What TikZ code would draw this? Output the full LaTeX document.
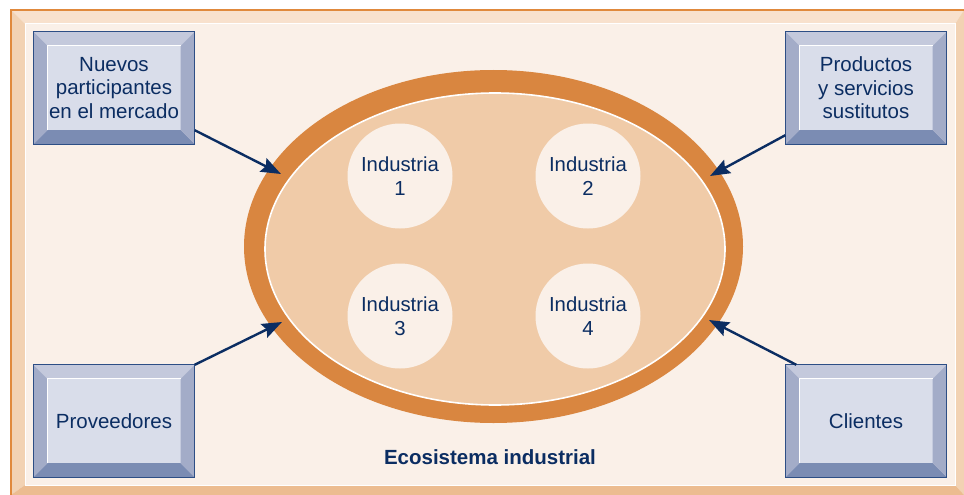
\documentclass[tikz,border=0pt]{standalone}
\usepackage{fontspec}
\setmainfont{Liberation Sans}
\usetikzlibrary{arrows.meta,shapes.geometric}
\definecolor{navy}{HTML}{0B2D62}
\definecolor{ring}{HTML}{D98640}
\definecolor{ringin}{HTML}{F0CBA8}
\definecolor{paper}{HTML}{FAF0E8}
\definecolor{frtop}{HTML}{F8E1CD}
\definecolor{frside}{HTML}{F2D2B3}
\definecolor{frbot}{HTML}{ECBC90}
\definecolor{frline}{HTML}{E0893C}
\definecolor{bxface}{HTML}{D9DDEA}
\definecolor{bxtop}{HTML}{C4C9DC}
\definecolor{bxside}{HTML}{A3ACC8}
\definecolor{bxbot}{HTML}{7B8CB3}
\definecolor{bxline}{HTML}{2D4E85}
\tikzset{
  boxouter/.style={rectangle,minimum width=161pt,minimum height=112pt,inner sep=0pt,fill=bxface},
  boxtext/.style={align=center,text=navy,font=\fontsize{20.5}{23.5}\selectfont,inner sep=0pt},
  indcircle/.style={circle,minimum size=105pt,inner sep=0pt,fill=paper,text=navy,align=center,font=\fontsize{20.3}{23.5}\selectfont},
  arr/.style={draw=navy,line width=2.4pt,-{Stealth[length=20pt,width=15pt,inset=3pt]}},
}
\newcommand{\bevbox}[4]{%
  \node[boxouter] (#1) at (#2,#3) {};
  \fill[bxtop] (#1.north west) -- (#1.north east) -- ([shift={(-14pt,-14pt)}]#1.north east) -- ([shift={(14pt,-14pt)}]#1.north west) -- cycle;
  \fill[bxbot] (#1.south west) -- (#1.south east) -- ([shift={(-14pt,14pt)}]#1.south east) -- ([shift={(14pt,14pt)}]#1.south west) -- cycle;
  \fill[bxside] (#1.north west) -- ([shift={(14pt,-14pt)}]#1.north west) -- ([shift={(14pt,14pt)}]#1.south west) -- (#1.south west) -- cycle;
  \fill[bxside] (#1.north east) -- ([shift={(-14pt,-14pt)}]#1.north east) -- ([shift={(-14pt,14pt)}]#1.south east) -- (#1.south east) -- cycle;
  \draw[white,line width=1pt] ([shift={(14pt,14pt)}]#1.south west) -- ([shift={(14pt,-14pt)}]#1.north west) -- ([shift={(-14pt,-14pt)}]#1.north east);
  \draw[bxline,line width=1.2pt] (#1.north west) rectangle (#1.south east);
  \node[boxtext] at (#1) {#4};
}
\begin{document}
\begin{tikzpicture}[x=1pt,y=-1pt]
\useasboundingbox (0,0) rectangle (964,495);
\fill[white] (0,0) rectangle (964,495);
% frame
\fill[frtop] (11,10) -- (964,10) -- (955,24) -- (25,24) -- cycle;
\fill[frside] (11,10) -- (25,24) -- (25,485) -- (11,495) -- cycle;
\fill[frside] (964,10) -- (964,495) -- (955,485) -- (955,24) -- cycle;
\fill[frbot] (11,495) -- (964,495) -- (955,485) -- (25,485) -- cycle;
\fill[paper,draw=white,line width=1pt] (25,24) rectangle (955,485);
\draw[frline,line width=1.5pt] (11,495) -- (11,10) -- (964,10);
% ellipse
\node[ellipse,fill=ring,minimum width=499pt,minimum height=353pt,inner sep=0pt] (eco) at (493.5,246.5) {};
\node[ellipse,fill=ringin,draw=white,line width=1.6pt,minimum width=460pt,minimum height=312pt,inner sep=0pt] (ecoin) at (495,249) {};
\node[indcircle] (i1) at (400,176) {Industria\\1};
\node[indcircle] (i2) at (588,176) {Industria\\2};
\node[indcircle] (i3) at (400,316) {Industria\\3};
\node[indcircle] (i4) at (588,316) {Industria\\4};
\node[text=navy,font=\bfseries\fontsize{20.5}{24}\selectfont] (lab) at (490,457) {Ecosistema industrial};
% boxes
\bevbox{b1}{114}{88}{Nuevos\\participantes\\en el mercado}
\bevbox{b2}{866}{88}{Productos\\y servicios\\sustitutos}
\bevbox{b3}{114}{421}{Proveedores}
\bevbox{b4}{866}{421}{Clientes}
% arrows
\coordinate (t1) at (281,174);
\coordinate (t2) at (710,176);
\coordinate (t3) at (282,322);
\coordinate (t4) at (709,320);
\draw[arr] ([yshift=14pt]b1.south east) -- (t1);
\draw[arr] ([yshift=9pt]b2.south west) -- (t2);
\draw[arr] (b3.north east) -- (t3);
\draw[arr] ([xshift=11pt]b4.north west) -- (t4);
\end{tikzpicture}
\end{document}
